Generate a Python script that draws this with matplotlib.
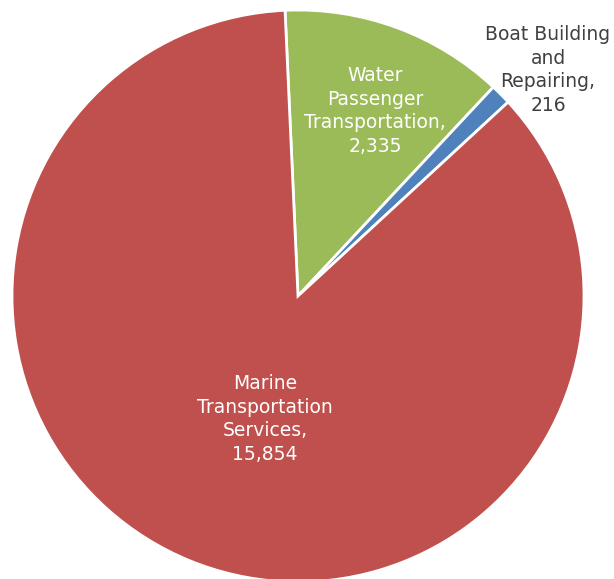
import matplotlib
matplotlib.use("Agg")
import matplotlib.pyplot as plt

# employment by sector
categories = ["Water\nPassenger\nTransportation,", "Boat Building\nand\nRepairing,", "Marine\nTransportation\nServices,"]
values = [2335, 216, 15854]
colors = ["#9BBB59", "#4F81BD", "#C0504D"]

W, H = 614, 579
fig = plt.figure(figsize=(W / 100, H / 100), dpi=100)
ax = fig.add_axes((0, 0, 1, 1))

cx, cy, r = 298, H - 296, 286
ax.pie(values, colors=colors, startangle=92.6, counterclock=False,
       center=(cx, cy), radius=r,
       wedgeprops={"edgecolor": "white", "linewidth": 2})
ax.set_xlim(0, W)
ax.set_ylim(0, H)
ax.set_aspect("equal")
ax.axis("off")

font = "DejaVu Sans"
label_pos = [(375, H - 111, "white"), (548, H - 70, "#404040"), (265, H - 419, "white")]
for cat, val, (x, y, c) in zip(categories, values, label_pos):
    ax.text(x, y, f"{cat}\n{val:,}", ha="center", va="center", color=c,
            fontsize=13.5, family=font, linespacing=1.3)

fig.savefig("out.png", dpi=100)
